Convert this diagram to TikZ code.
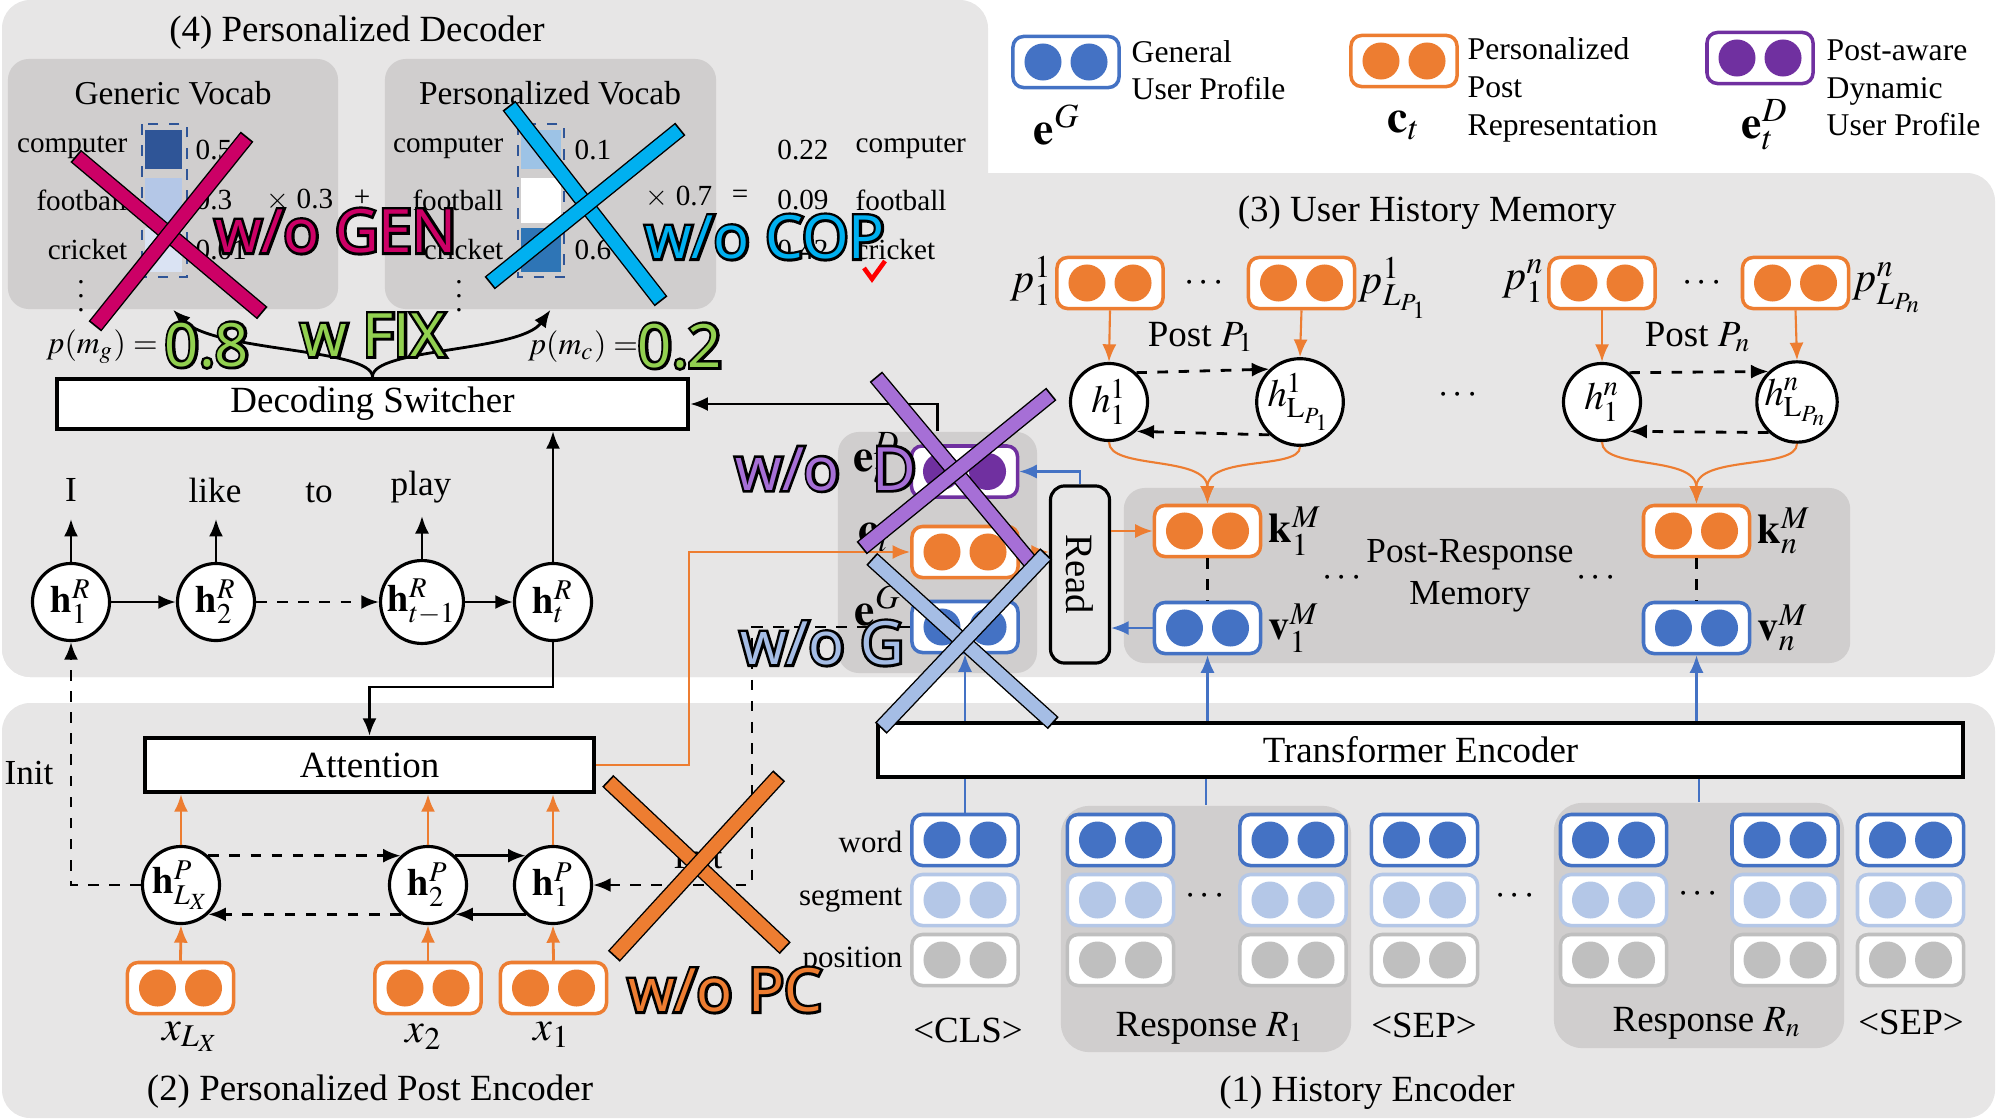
\documentclass[tikz,border=0pt]{standalone}
\usepackage{mathptmx}
\usepackage[no-math]{fontspec}
\setmainfont{Liberation Serif}
\newfontfamily\ablfont{Open Sans}
\usetikzlibrary{arrows.meta,calc}
\definecolor{panelgray}{HTML}{E7E6E6}
\definecolor{innergray}{HTML}{D0CECE}
\definecolor{cblue}{HTML}{4472C4}
\definecolor{cbluel}{HTML}{B4C7E7}
\definecolor{cgrayd}{HTML}{BFBFBF}
\definecolor{corange}{HTML}{ED7D31}
\definecolor{cpurple}{HTML}{7030A0}
\definecolor{vdark}{HTML}{2F5597}
\definecolor{vlight}{HTML}{DAE3F3}
\definecolor{vmid}{HTML}{9DC3E6}
\definecolor{vblue}{HTML}{2E75B6}
\definecolor{ablred}{HTML}{CC0066}
\definecolor{ablcyan}{HTML}{00B0F0}
\definecolor{ablpurple}{HTML}{A66FD6}
\definecolor{ablblue}{HTML}{A5BDE5}
\definecolor{ablgreen}{HTML}{92D050}

\newcommand{\emb}[4]{%
  \node[embbox,draw=#3] (#1) at (#2) {};
  \fill[#4] ([xshift=-0.23cm]#1.center) circle (0.185cm);
  \fill[#4] ([xshift=0.23cm]#1.center) circle (0.185cm);}
\newcommand{\ablbar}[3]{%
  \draw[line width=4.6pt,shorten <=-0.5pt,shorten >=-0.5pt] #2 -- #3;
  \draw[line width=3.8pt,#1] #2 -- #3;}
% outlined text: a black stroked copy under the coloured one
\newcommand{\outl}[1]{\rlap{\special{pdf:literal direct 0 0 0 RG 1 Tr 1.5 w}#1\special{pdf:literal direct 0 Tr}}#1}

\begin{document}
\begin{tikzpicture}[x=0.01cm,y=-0.01cm,
  lbl/.style={inner sep=0pt,font=\fontsize{10.5}{12}\selectfont},
  leg/.style={inner sep=0pt,anchor=west,align=left,font=\fontsize{9}{10.7}\selectfont},
  small/.style={inner sep=0pt,font=\fontsize{8.3}{10}\selectfont},
  sym/.style={inner sep=0pt,font=\fontsize{13}{14}\selectfont},
  msym/.style={inner sep=0pt,font=\fontsize{12}{13}\selectfont},
  embbox/.style={rectangle,rounded corners=3pt,fill=white,line width=1pt,minimum width=1.06cm,minimum height=0.51cm,inner sep=0pt},
  hnode/.style={circle,draw,line width=0.9pt,fill=white,minimum size=0.77cm,inner sep=0pt,font=\fontsize{11}{12}\selectfont},
  bigbox/.style={rectangle,draw,line width=1.2pt,fill=white,inner sep=0pt,font=\fontsize{10.5}{12}\selectfont},
  panel/.style={fill=innergray,rounded corners=6pt,inner sep=0pt},
  arr/.style={line width=0.8pt,-{Latex[length=5pt,width=4pt]}},
  abl/.style={inner sep=0pt,font=\ablfont\fontsize{17}{20}\selectfont}]

\useasboundingbox (0,0) rectangle (2000,1118);

% background panels
\fill[panelgray,rounded corners=8pt] (2,0) rectangle (988,677);
\fill[panelgray,rounded corners=8pt] (2,173) rectangle (1995,677);
\fill[panelgray,rounded corners=8pt] (2,703) rectangle (1995,1118);

% legend
\emb{legG}{1066,62}{cblue}{cblue}
\node[leg] (legGt) at (1131,70) {General\\User Profile};
\node[sym] (legGs) at (1057,125) {$\mathbf{e}^G$};
\emb{legC}{1404,61}{corange}{corange}
\node[leg] (legCt) at (1467,90) {Personalized\\Post\\Representation};
\node[sym] (legCs) at (1404,125) {$\mathbf{c}_t$};
\emb{legD}{1760,58}{cpurple}{cpurple}
\node[leg] (legDt) at (1826,88) {Post-aware\\Dynamic\\User Profile};
\node[sym] (legDs) at (1765,125) {$\mathbf{e}_t^D$};

% (4) decoder
\node[lbl] (decT) at (357,33) {(4) Personalized Decoder};
\node[panel,minimum width=3.3cm,minimum height=2.5cm] (genV) at (173,184) {};
\node[panel,minimum width=3.31cm,minimum height=2.5cm] (perV) at (550.5,184) {};
\node[lbl,font=\fontsize{9.5}{11}\selectfont] (genT) at (173,93) {Generic Vocab};
\node[lbl,font=\fontsize{9.5}{11}\selectfont] (perT) at (550,93) {Personalized Vocab};
\fill[vdark] (145,130) rectangle (182,169);
\fill[cbluel] (145,178) rectangle (182,223);
\fill[vlight] (145,228) rectangle (182,272);
\draw[vdark,dashed,line width=0.8pt] (142,124) rectangle (187,277);
\fill[vmid] (521,130) rectangle (561,169);
\fill[white] (521,178) rectangle (561,223);
\fill[vblue] (521,228) rectangle (561,272);
\draw[vdark,dashed,line width=0.8pt] (518,124) rectangle (564,277);
\foreach \wrd/\yy in {computer/147,football/200,cricket/250} {
  \node[small,anchor=east] (g\wrd) at (128,\yy) {\wrd};
  \node[small,anchor=east] (p\wrd) at (504,\yy) {\wrd};
  \node[small,anchor=west] (r\wrd) at (855,\yy) {\wrd};
}
\foreach \vg/\vp/\vr/\yy in {0.5/0.1/0.22/150,0.3/0/0.09/200,0.01/0.6/0.42/250} {
  \node[small,anchor=west] at (195,\yy) {\vg};
  \node[small,anchor=west] at (574,\yy) {\vp};
  \node[small] at (803,\yy) {\vr};
}
\node[small] (gdots) at (81,286) {$\vdots$};
\node[small] (pdots) at (459,286) {$\vdots$};
\node[small] (mulg) at (300,200) {$\times$ 0.3};
\node[small] (plus) at (362,198) {+};
\node[small] (mulp) at (679,197) {$\times$ 0.7};
\node[small] (eq) at (740,197) {=};
\draw[red,line width=1.3pt] (864,268) -- (872,279) -- (885,261);

\node[bigbox,minimum width=6.31cm,minimum height=0.5cm] (ds) at (372.5,404) {Decoding Switcher};
\draw[arr] (ds.north) .. controls (372,348) and (215,352) .. (genV.south);
\draw[arr] (ds.north) .. controls (372,348) and (520,352) .. (perV.south);
\node[inner sep=0pt,font=\fontsize{9}{10}\selectfont] (pmg) at (102,347) {$p(m_g)=$};
\node[inner sep=0pt,font=\fontsize{9}{10}\selectfont] (pmc) at (583,347) {$p(m_c)=$};

% decoder rnn
\foreach \nm/\xx/\lab in {hRa/71/1,hRb/216/2,hRc/422/{t-1},hRd/553/t}
  \node[hnode] (\nm) at (\xx,602) {$\mathbf{h}_{\lab}^R$};
\draw[arr] (hRa) -- (hRb);
\draw[arr,dashed] (hRb) -- (hRc);
\draw[arr] (hRc) -- (hRd);
\foreach \nm in {hRa,hRb,hRc}
  \draw[arr] (\nm.north) -- ++(0,-43);
\node[lbl,font=\fontsize{10}{12}\selectfont] (wI) at (71,490) {I};
\node[lbl,font=\fontsize{10}{12}\selectfont] (wlike) at (215,490) {like};
\node[lbl,font=\fontsize{10}{12}\selectfont] (wto) at (319,493) {to};
\node[lbl,font=\fontsize{10}{12}\selectfont] (wplay) at (421,487) {play};
\draw[arr] (hRd.north) -- (ds.south -| hRd.north);

% (2) post encoder
\node[bigbox,minimum width=4.49cm,minimum height=0.54cm] (att) at (369.5,765) {Attention};
\draw[arr] (hRd.south) -- (553,687) -| (att.north);
\foreach \nm/\xx/\lab in {hPL/181/{L_X},hPb/428/2,hPa/553/1}
  \node[hnode] (\nm) at (\xx,885) {$\mathbf{h}_{\lab}^P$};
\draw[arr,dashed] (hPL.47) -- (hPb.133);
\draw[arr] (hPb.47) -- (hPa.133);
\draw[arr] (hPa.-133) -- (hPb.-47);
\draw[arr,dashed] (hPb.-133) -- (hPL.-47);
\foreach \nm/\xx in {xL/180.5,xb/428,xa/553.5} {\emb{\nm}{\xx,988}{corange}{corange}}
\foreach \a/\b in {xL/hPL,xb/hPb,xa/hPa} {
  \draw[arr,corange] (\a.north) -- (\b.south);
  \draw[arr,corange] (\b.north) -- (\b.north |- att.south);
}
\node[msym] (xLl) at (191,1037) {$x_{L_X}$};
\node[msym] (xbl) at (424,1037) {$x_2$};
\node[msym] (xal) at (552,1035) {$x_1$};
\draw[arr,dashed] (hPL.west) -- (71,885) -- (hRa.south);
\node[lbl,font=\fontsize{10}{12}\selectfont] (initA) at (29,773) {Init};
\node[lbl] (encT) at (370,1092) {(2) Personalized Post Encoder};

% context stack
\node[panel,minimum width=1.99cm,minimum height=2.41cm] (ctx) at (937.5,552.5) {};
\emb{eD}{964.5,471.5}{cpurple}{cpurple}
\emb{cT}{965,552}{corange}{corange}
\emb{eG}{965,627}{cblue}{cblue}
\node[sym] (eDl) at (877,458) {$\mathbf{e}_t^D$};
\node[sym] (cTl) at (875,537) {$\mathbf{c}_t$};
\node[sym] (eGl) at (878,606) {$\mathbf{e}^G$};
\draw[arr] (ctx.north) |- (ds.east);
\draw[arr,corange] (att.east) -- (689,765) -- (689,552) -- (cT.west);
\draw[arr,dashed] (eG.west) -- (752,627) -- (752,885) -- (hPa.east);
\node[lbl,font=\fontsize{10}{12}\selectfont] (initB) at (698,857) {Init};

% read
\node[draw,line width=0.9pt,rounded corners=4pt,fill=panelgray,minimum width=0.59cm,minimum height=1.77cm] (read) at (1080,574.5) {};
\node[inner sep=0pt,rotate=-90,font=\fontsize{11}{12}\selectfont] (readT) at (read.center) {Read};

% (3) user history memory
\node[lbl] (memT) at (1427,213) {(3) User History Memory};
\node[panel,minimum width=7.26cm,minimum height=1.75cm] (prm) at (1487,575.5) {};
\emb{kA}{1207.5,531}{corange}{corange}
\emb{vA}{1207.5,628}{cblue}{cblue}
\emb{kB}{1696.5,531}{corange}{corange}
\emb{vB}{1696.5,628}{cblue}{cblue}
\draw[dashed,line width=0.6pt] (kA.south) -- (vA.north);
\draw[dashed,line width=0.6pt] (kB.south) -- (vB.north);
\node[msym,anchor=west] (kAl) at (1268,531) {$\mathbf{k}_1^M$};
\node[msym,anchor=west] (vAl) at (1268,628) {$\mathbf{v}_1^M$};
\node[msym,anchor=west] (kBl) at (1757,531) {$\mathbf{k}_n^M$};
\node[msym,anchor=west] (vBl) at (1757,628) {$\mathbf{v}_n^M$};
\node[lbl] (mdA) at (1342,578) {$\cdots$};
\node[lbl] (mdB) at (1596,578) {$\cdots$};
\node[lbl,font=\fontsize{10}{12}\selectfont,align=center] (prmT) at (1470,576) {Post-Response\\Memory};
\draw[arr,cblue,line width=0.6pt] (read.north) |- (eD.east);
\draw[arr,corange,line width=0.6pt] (cT.east) -- (cT.east -| read.west);
\draw[arr,corange,line width=0.6pt] (read.east |- kA.west) -- (kA.west);
\draw[arr,cblue,line width=0.6pt] (vA.west) -- (vA.west -| read.east);

\foreach \nm/\xx in {pa/1110,pb/1301.5,pc/1602,pd/1795.5} {\emb{\nm}{\xx,283}{corange}{corange}}
\node[msym,anchor=east] (pal) at (1053,281) {$p_1^1$};
\node[msym,anchor=west] (pbl) at (1358,288) {$p_{L_{P_1}}^1$};
\node[msym,anchor=east] (pcl) at (1545,281) {$p_1^n$};
\node[msym,anchor=west] (pdl) at (1852,288) {$p_{L_{P_n}}^n$};
\node[lbl] (pdA) at (1204,283) {$\cdots$};
\node[lbl] (pdB) at (1702,283) {$\cdots$};
\node[lbl] (postA) at (1201,337) {Post $P_1$};
\node[lbl] (postB) at (1698,337) {Post $P_n$};
\node[hnode] (ha) at (1109,402) {$h_1^1$};
\node[hnode] (hb) at (1300,402) {$h^1_{\mathrm{L}_{P_1}}$};
\node[hnode] (hc) at (1602,402) {$h_1^n$};
\node[hnode] (hd) at (1797,402) {$h^n_{\mathrm{L}_{P_n}}$};
\node[lbl] (hdots) at (1458,395) {$\cdots$};
\foreach \p/\h in {pa/ha,pb/hb,pc/hc,pd/hd}
  \draw[arr,corange,line width=0.6pt] (\p.south) -- (\h.north);
\draw[arr,dashed] (ha.47) -- (hb.133);
\draw[arr,dashed] (hb.-133) -- (ha.-47);
\draw[arr,dashed] (hc.47) -- (hd.133);
\draw[arr,dashed] (hd.-133) -- (hc.-47);
\draw[arr,corange,line width=0.6pt] (ha.south) .. controls (1109,470) and (1207,455) .. (kA.north);
\draw[arr,corange,line width=0.6pt] (hb.south) .. controls (1300,470) and (1207,455) .. (kA.north);
\draw[arr,corange,line width=0.6pt] (hc.south) .. controls (1602,470) and (1696,455) .. (kB.north);
\draw[arr,corange,line width=0.6pt] (hd.south) .. controls (1797,470) and (1696,455) .. (kB.north);

% (1) history encoder
\node[bigbox,minimum width=10.85cm,minimum height=0.54cm] (te) at (1420.5,750) {Transformer Encoder};
\node[panel,rounded corners=8pt,minimum width=2.9cm,minimum height=2.46cm] (resA) at (1206,929) {};
\node[panel,rounded corners=8pt,minimum width=2.9cm,minimum height=2.45cm] (resB) at (1699,925.5) {};
\foreach \cx/\nm in {965/cls,1120.5/ra,1293/rb,1424.5/sa,1613.5/rc,1785/rd,1910.5/sb} {
  \emb{w\nm}{\cx,840}{cblue}{cblue}
  \emb{s\nm}{\cx,900}{cbluel}{cbluel}
  \emb{q\nm}{\cx,960}{cgrayd}{cgrayd}
}
\draw[arr,cblue,line width=0.6pt] (te.north -| eG.south) -- (eG.south);
\draw[arr,cblue,line width=0.6pt] (te.north -| vA.south) -- (vA.south);
\draw[arr,cblue,line width=0.6pt] (te.north -| vB.south) -- (vB.south);
\draw[cblue,line width=0.6pt] (te.south -| wcls.north) -- (wcls.north);
\draw[cblue,line width=0.6pt] (te.south -| resA.north) -- (resA.north);
\draw[cblue,line width=0.6pt] (te.south -| resB.north) -- (resB.north);
\node[lbl,font=\fontsize{8.8}{10}\selectfont,anchor=east] (lword) at (903,842) {word};
\node[lbl,font=\fontsize{8.8}{10}\selectfont,anchor=east] (lseg) at (903,900) {segment};
\node[lbl,font=\fontsize{8.8}{10}\selectfont,anchor=east] (lpos) at (903,961) {position};
\node[lbl] (ecA) at (1205,896) {$\cdots$};
\node[lbl] (ecB) at (1515,896) {$\cdots$};
\node[lbl] (ecC) at (1698,894) {$\cdots$};
\node[lbl] (clsT) at (968,1030) {<CLS>};
\node[lbl] (resAT) at (1210,1028) {Response $R_1$};
\node[lbl] (sepAT) at (1424,1025) {<SEP>};
\node[lbl] (resBT) at (1707,1023) {Response $R_n$};
\node[lbl] (sepBT) at (1911,1022) {<SEP>};
\node[lbl] (hisT) at (1367,1093) {(1) History Encoder};

% ablation marks
\ablbar{ablred}{(77,157)}{(261,312)}
\ablbar{ablred}{(246,138)}{(96,325)}
\node[abl,text=ablred] (abGen) at (336,231) {\outl{w/o GEN}};
\ablbar{ablcyan}{(510,107)}{(660,300)}
\ablbar{ablcyan}{(679,130)}{(491,282)}
\node[abl,text=ablcyan] (abCop) at (765,237) {\outl{w/o COP}};
\node[abl,text=ablgreen] (abG8) at (207,345) {\outl{0.8}};
\node[abl,text=ablgreen] (abFix) at (373,335) {\outl{w FIX}};
\node[abl,text=ablgreen] (abG2) at (680,346) {\outl{0.2}};
\ablbar{ablpurple}{(877,378)}{(1033,565)}
\ablbar{ablpurple}{(1050,395)}{(863,547)}
\node[abl,text=ablpurple] (abD) at (826,469) {\outl{w/o\hspace{0.55em}D}};
\ablbar{ablblue}{(873,560)}{(1052,722)}
\ablbar{ablblue}{(1045,555)}{(882,727)}
\node[abl,text=ablblue] (abG) at (822,643) {\outl{w/o G}};
\ablbar{corange}{(609,782)}{(784,947)}
\ablbar{corange}{(778,777)}{(615,955)}
\node[abl,text=corange] (abPc) at (725,990) {\outl{w/o PC}};
\end{tikzpicture}
\end{document}
